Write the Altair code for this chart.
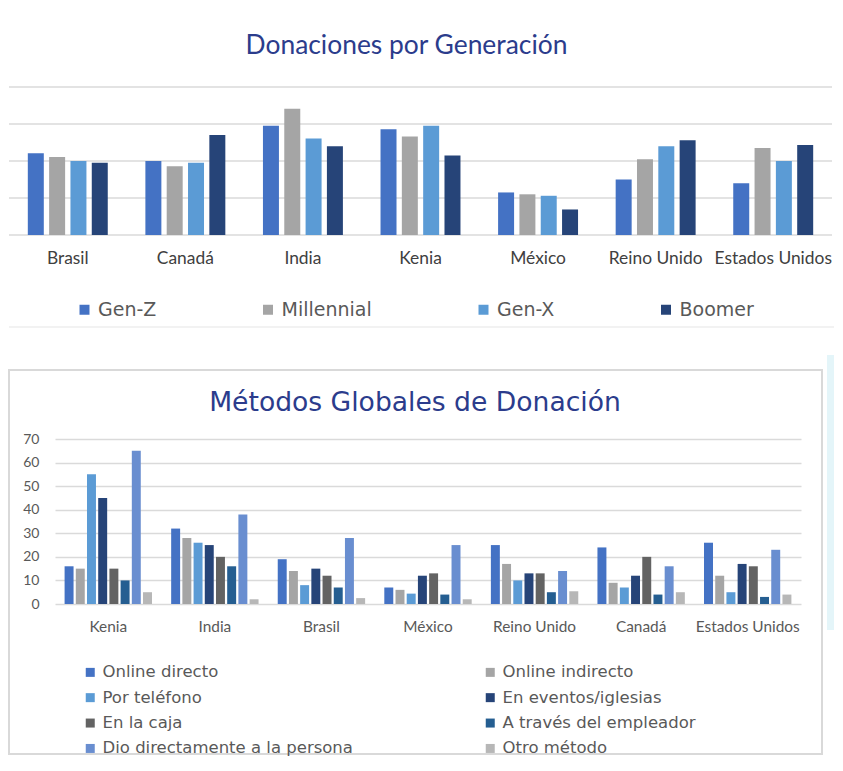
import altair as alt
import pandas as pd

# ---------------- Donaciones por Generación ----------------
paises_gen = ["Brasil", "Canadá", "India", "Kenia", "México", "Reino Unido", "Estados Unidos"]
generaciones = ["Gen-Z", "Millennial", "Gen-X", "Boomer"]
gen_z = [22.1, 20.0, 29.5, 28.6, 11.5, 15.0, 14.0]
millennial = [21.1, 18.6, 34.1, 26.6, 11.0, 20.5, 23.5]
gen_x = [20.0, 19.5, 26.1, 29.5, 10.6, 24.0, 20.0]
boomer = [19.5, 27.0, 24.0, 21.5, 6.9, 25.6, 24.3]
colores_gen = ["#4472C4", "#A5A5A5", "#5B9BD5", "#264478"]
ticks_gen = [0, 10, 20, 30, 40]

# ---------------- Métodos Globales de Donación ----------------
paises_met = ["Kenia", "India", "Brasil", "México", "Reino Unido", "Canadá", "Estados Unidos"]
metodos = ["Online directo", "Online indirecto", "Por teléfono", "En eventos/iglesias",
           "En la caja", "A través del empleador", "Dio directamente a la persona", "Otro método"]
online_directo = [16, 32, 19, 7, 25, 24, 26]
online_indirecto = [15, 28, 14, 6, 17, 9, 12]
por_telefono = [55, 26, 8, 4.4, 10, 7, 5]
en_eventos = [45, 25, 15, 12, 13, 12, 17]
en_la_caja = [15, 20, 12, 13, 13, 20, 16]
empleador = [10, 16, 7, 4, 5, 4, 3]
directamente = [65, 38, 28, 25, 14, 16, 23]
otro = [5, 2, 2.5, 2, 5.4, 5, 4]
colores_met = ["#4472C4", "#A5A5A5", "#5B9BD5", "#264478", "#636363", "#255E91", "#698ED0", "#B7B7B7"]
ticks_met = [0, 10, 20, 30, 40, 50, 60, 70]

TITLE_COLOR = "#2B3C8C"

series_gen = [gen_z, millennial, gen_x, boomer]
rows = []
for g, serie in zip(generaciones, series_gen):
    for p, v in zip(paises_gen, serie):
        rows.append({"pais": p, "gen": g, "valor": v})
df_gen = pd.DataFrame(rows)
df_ticks_gen = pd.DataFrame({"valor": ticks_gen})
df_paises_gen = pd.DataFrame({"pais": paises_gen})

series_met = [online_directo, online_indirecto, por_telefono, en_eventos,
              en_la_caja, empleador, directamente, otro]
rows = []
for m, serie in zip(metodos, series_met):
    for p, v in zip(paises_met, serie):
        rows.append({"pais2": p, "metodo": m, "valor2": v})
df_met = pd.DataFrame(rows)

one = pd.DataFrame({"k": [0]})

# ---------- top chart ----------
y_top = alt.Scale(domain=[0, 40], nice=False)
x_top = alt.Scale(range=[-46, 777], paddingInner=0.32, paddingOuter=0.16)

grid_top = alt.Chart(df_ticks_gen).mark_rule(color="#DADADA", strokeWidth=1.5).encode(
    y=alt.Y("valor:Q", scale=y_top, axis=None),
    x=alt.value(-46), x2=alt.value(777),
)

bars_top = alt.Chart(df_gen).mark_bar().encode(
    x=alt.X("pais:N", sort=paises_gen, scale=x_top, axis=None),
    xOffset=alt.XOffset("gen:N", sort=generaciones, scale=alt.Scale(paddingInner=0.25)),
    y=alt.Y("valor:Q", scale=y_top, axis=None),
    color=alt.Color("gen:N", sort=generaciones,
                    scale=alt.Scale(domain=generaciones, range=colores_gen),
                    legend=alt.Legend(title=None, orient="none", legendX=20, legendY=213,
                                      direction="horizontal", columns=4, columnPadding=101.5,
                                      symbolType="square", symbolSize=100, symbolStrokeWidth=0,
                                      labelFont="DejaVu Sans", labelFontSize=19,
                                      labelColor="#595959", labelOffset=4, padding=0)),
)

labels_top = alt.Chart(df_paises_gen).mark_text(
    font="Lato", fontSize=17.4, color="#404040", baseline="middle", align="center"
).encode(
    x=alt.X("pais:N", sort=paises_gen, scale=x_top, axis=None),
    y=alt.value(172),
    text="pais:N",
)

sep_top = alt.Chart(one).mark_rule(color="#EEEEEE", strokeWidth=1.5).encode(
    x=alt.value(-46), x2=alt.value(779), y=alt.value(240)
)

top = alt.layer(grid_top, bars_top, labels_top, sep_top).properties(
    width=777, height=148,
    title=alt.TitleParams("Donaciones por Generación", font="Lato", fontSize=26.4,
                          fontWeight="normal", color=TITLE_COLOR, anchor="middle",
                          frame="group", dx=-37, offset=26.5),
)

# ---------- bottom chart ----------
frame = alt.Chart(one).mark_rect(fill="#FFFFFF", fillOpacity=0, stroke="#D9D9D9", strokeWidth=2).encode(
    x=alt.value(-46), x2=alt.value(767), y=alt.value(-69), y2=alt.value(315)
)
deco = alt.Chart(one).mark_rect(color="#E4F5F9").encode(
    x=alt.value(772), x2=alt.value(779), y=alt.value(-84), y2=alt.value(191)
)

bars_bot = alt.Chart(df_met).mark_bar().encode(
    x=alt.X("pais2:N", sort=paises_met,
            scale=alt.Scale(paddingInner=0.18, paddingOuter=0.09),
            axis=alt.Axis(title=None, labelAngle=0, domain=False, ticks=False,
                          labelFont="Lato", labelFontSize=15.4, labelColor="#595959",
                          labelPadding=15.5)),
    xOffset=alt.XOffset("metodo:N", sort=metodos, scale=alt.Scale(paddingInner=0.2)),
    y=alt.Y("valor2:Q", scale=alt.Scale(domain=[0, 70], nice=False),
            axis=alt.Axis(title=None, ticks=False, domain=False, values=ticks_met,
                          labelFont="Lato", labelFontSize=14, labelColor="#595959",
                          labelPadding=16, gridColor="#DADADA", gridWidth=1.5)),
    color=alt.Color("metodo:N", sort=metodos,
                    scale=alt.Scale(domain=metodos, range=colores_met),
                    legend=alt.Legend(title=None, orient="none", legendX=27, legendY=225,
                                      direction="horizontal", columns=2, columnPadding=129,
                                      rowPadding=8.4, symbolType="square", symbolSize=81,
                                      symbolStrokeWidth=0, labelFont="DejaVu Sans",
                                      labelFontSize=16.5, labelColor="#595959",
                                      labelOffset=4, padding=0, labelLimit=400)),
)

bottom = alt.layer(frame, deco, bars_bot).properties(
    width=746, height=165,
    title=alt.TitleParams("Métodos Globales de Donación", font="DejaVu Sans", fontSize=26.6,
                          fontWeight="normal", color=TITLE_COLOR, anchor="middle",
                          frame="group", dx=-13, offset=-62),
)

chart = alt.concat(top, bottom, columns=1, spacing=27).resolve_scale(
    x="independent", y="independent", xOffset="independent", color="independent"
).resolve_legend(color="independent").properties(
    padding={"left": 0, "top": 25, "right": 0, "bottom": 0},
    background="#FFFFFF",
).configure_view(stroke=None)

chart.save("out.html", embed_options={"renderer": "svg", "actions": False})
